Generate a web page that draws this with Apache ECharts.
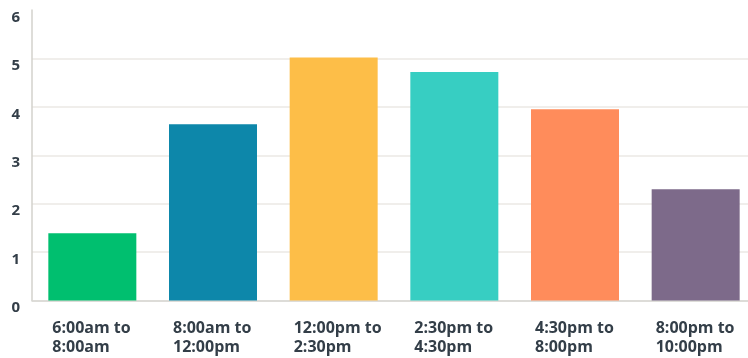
<!DOCTYPE html>
<html>
<head>
<meta charset="utf-8">
<script src="https://cdn.jsdelivr.net/npm/echarts@6/dist/echarts.min.js"></script>
<style>
html,body{margin:0;padding:0;background:#fff;}
#c{width:748px;height:358px;}
</style>
</head>
<body>
<div id="c"></div>
<script>
const categories = ["6:00am to\n8:00am", "8:00am to\n12:00pm", "12:00pm to\n2:30pm", "2:30pm to\n4:30pm", "4:30pm to\n8:00pm", "8:00pm to\n10:00pm"];
const values = [1.39, 3.64, 5.02, 4.72, 3.95, 2.30];
const colors = ["#00BF6F", "#0D87AA", "#FDBE48", "#37CEC2", "#FF8C5B", "#7D6A8A"];
const yTicks = [0, 1, 2, 3, 4, 5, 6];

const chart = echarts.init(document.getElementById('c'));
chart.setOption({
  animation: false,
  backgroundColor: '#ffffff',
  grid: { left: 32, top: 10, width: 724, height: 290.5, outerBoundsMode: 'none', containLabel: false },
  xAxis: {
    type: 'category',
    data: categories,
    axisLine: { show: true, lineStyle: { color: '#d6d6d2', width: 1.5 } },
    axisTick: { show: false },
    axisLabel: {
      interval: 0,
      margin: 18,
      align: 'center',
      formatter: function (v) { return v.split('\n').map(s => '{a|' + s + '}').join('\n'); },
      rich: {
        a: { width: 80, align: 'left', fontFamily: 'Open Sans', fontWeight: 'bold', fontSize: 16, lineHeight: 19, color: '#333e48' }
      }
    }
  },
  yAxis: {
    type: 'value',
    min: yTicks[0],
    max: yTicks[yTicks.length - 1],
    interval: 1,
    axisLine: { show: true, lineStyle: { color: '#d3d2cc', width: 1.5 } },
    axisTick: { show: false },
    splitLine: { show: true, showMaxLine: false, lineStyle: { color: '#ebe9e4', width: 1.5 } },
    axisLabel: {
      margin: 12,
      verticalAlign: 'top',
      lineHeight: 15,
      fontFamily: 'Open Sans', fontWeight: 'bold', fontSize: 15, color: '#333e48'
    }
  },
  series: [{
    type: 'bar',
    barWidth: 88,
    data: values.map((v, i) => ({ value: v, itemStyle: { color: colors[i] } }))
  }]
});
</script>
</body>
</html>
